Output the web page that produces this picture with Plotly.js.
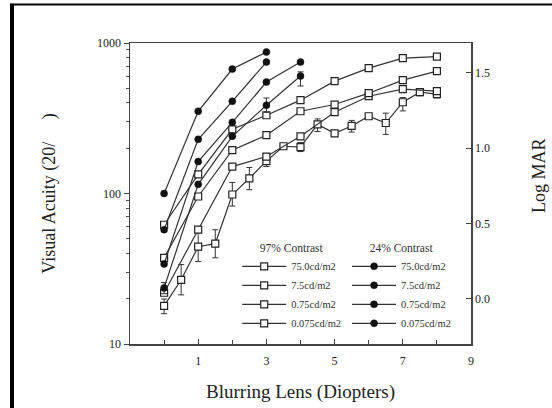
<!DOCTYPE html>
<html>
<head>
<meta charset="utf-8">
<script src="https://cdn.plot.ly/plotly-3.0.1.min.js"></script>
<style>html,body{margin:0;padding:0;background:#fff;}#chart{width:552px;height:408px;}</style>
</head>
<body>
<div id="chart"></div>
<script>
// ---- Data ----
const lensFull = [0, 1, 2, 3, 4, 5, 6, 7, 8];
const lensHalf = [0, 0.5, 1, 1.5, 2, 2.5, 3, 3.5, 4, 4.5, 5, 5.5, 6, 6.5, 7, 7.5, 8];
const lensLow3 = [0, 1, 2, 3];
const lensLow4 = [0, 1, 2, 3, 4];

// 97% contrast (open squares)
const hi75 = [17.9, 26.7, 44.3, 46.4, 98.5, 126, 164, 206, 203, 288, 251, 281, 326, 294, 404, 471, 457];
const hi75ErrUp = [2, 7, 11, 11, 20, 23, 15, 8, 15, 25, 0, 25, 0, 48, 30, 25, 25];
const hi75ErrDn = [2, 5.5, 9, 9, 16, 20, 13, 7, 13, 30, 0, 25, 0, 47, 50, 25, 25];
const hi7_5 = [21.9, 57.5, 151, 176, 240, 347, 443, 494, 479];
const hi0_75 = [37.4, 95.5, 194, 244, 352, 390, 464, 567, 650];
const hi0_075 = [62, 134, 267, 331, 417, 558, 681, 794, 812];

// 24% contrast (filled circles)
const lo75 = [23.6, 115, 240, 386, 603];
const lo75ErrUp = [2, 0, 0, 45, 40];
const lo75ErrDn = [2, 0, 0, 40, 85];
const lo7_5 = [34, 163, 297, 550, 747];
const lo0_75 = [57.5, 229, 410, 747];
const lo0_075 = [100, 352, 671, 871];

const seriesLabels = ['75.0cd/m2', '7.5cd/m2', '0.75cd/m2', '0.075cd/m2'];
const legendTitles = ['97% Contrast', '24% Contrast'];
const logmarTicks = [0, 0.5, 1.0, 1.5];
const logmarText = ['0.0', '0.5', '1.0', '1.5'];

// ---- Styling ----
const ink = '#222';
const lineStyle = {color: '#333', width: 1.2};
const sqMarker = {symbol: 'square', size: 7, color: '#fff', line: {color: ink, width: 1.2}};
const ciMarker = {symbol: 'circle', size: 7, color: '#111', line: {color: '#111', width: 0.5}};
function errBar(up, dn) {
  return {type: 'data', symmetric: false, array: up, arrayminus: dn, thickness: 1, width: 3, color: '#333'};
}

const traces = [
  {x: lensHalf, y: hi75, name: seriesLabels[0], legend: 'legend', legendgroup: 'h1', error_y: errBar(hi75ErrUp, hi75ErrDn)},
  {x: lensFull, y: hi7_5, name: seriesLabels[1], legend: 'legend', legendgroup: 'h2'},
  {x: lensFull, y: hi0_75, name: seriesLabels[2], legend: 'legend', legendgroup: 'h3'},
  {x: lensFull, y: hi0_075, name: seriesLabels[3], legend: 'legend', legendgroup: 'h4'}
].map(t => Object.assign({type: 'scatter', mode: 'lines+markers', line: lineStyle, marker: sqMarker}, t));

const traces2 = [
  {x: lensLow4, y: lo75, name: seriesLabels[0], legend: 'legend2', legendgroup: 'l1', error_y: errBar(lo75ErrUp, lo75ErrDn)},
  {x: lensLow4, y: lo7_5, name: seriesLabels[1], legend: 'legend2', legendgroup: 'l2'},
  {x: lensLow3, y: lo0_75, name: seriesLabels[2], legend: 'legend2', legendgroup: 'l3'},
  {x: lensLow3, y: lo0_075, name: seriesLabels[3], legend: 'legend2', legendgroup: 'l4'}
].map(t => Object.assign({type: 'scatter', mode: 'lines+markers', line: lineStyle, marker: ciMarker}, t));

// empty trace to activate the right-hand Log MAR axis
const axisHolder = {type: 'scatter', x: [], y: [], yaxis: 'y2', showlegend: false, hoverinfo: 'skip'};

const minorY = [20,30,40,50,60,70,80,90,200,300,400,500,600,700,800,900];
const serif = 'Liberation Serif, Times New Roman, serif';

const legendBase = {
  xref: 'paper', yref: 'paper', xanchor: 'left', yanchor: 'top',
  bgcolor: 'rgba(0,0,0,0)', borderwidth: 0,
  font: {family: serif, size: 10.5, color: '#333'},
  tracegroupgap: 0, itemwidth: 44
};

const layout = {
  width: 552, height: 408,
  margin: {l: 130, r: 81, t: 43, b: 64},
  paper_bgcolor: '#fff', plot_bgcolor: '#fff',
  font: {family: serif, color: '#333'},
  showlegend: true,
  xaxis: {
    range: [-1, 9], tickvals: [1, 3, 5, 7, 9], ticks: 'inside', ticklen: 5, tickcolor: '#444',
    minor: {tickvals: [0, 2, 4, 6, 8], ticks: 'inside', ticklen: 4, tickcolor: '#444'},
    showline: true, linecolor: '#444', linewidth: 1.5, mirror: true,
    showgrid: false, zeroline: false,
    tickfont: {family: serif, size: 12, color: '#222'},
    ticklabelstandoff: 5,
    title: {text: 'Blurring Lens (Diopters)', font: {family: serif, size: 19, color: '#222'}, standoff: 18}
  },
  yaxis: {
    type: 'log', range: [1, 3], tickvals: [10, 100, 1000], ticktext: ['10', '100', '1000'],
    ticks: 'outside', ticklen: 5, tickcolor: '#444',
    minor: {tickvals: minorY, ticks: 'outside', ticklen: 3, tickcolor: '#555'},
    showline: true, linecolor: '#444', linewidth: 1.5, mirror: false,
    showgrid: false, zeroline: false,
    tickfont: {family: serif, size: 12, color: '#222'},
    title: {text: 'Visual Acuity (20/\u00a0\u00a0\u00a0\u00a0\u00a0)', font: {family: serif, size: 18, color: '#222'}, standoff: 37}
  },
  yaxis2: {
    overlaying: 'y', side: 'right', range: [Math.log10(0.5), Math.log10(50)],
    tickvals: logmarTicks, ticktext: logmarText,
    ticks: 'inside', ticklen: 5, tickcolor: '#444',
    showline: true, linecolor: '#444', linewidth: 1.5,
    showgrid: false, zeroline: false,
    tickfont: {family: serif, size: 12, color: '#222'}
  },
  annotations: [
    {text: 'Log MAR', xref: 'paper', yref: 'paper', x: (539 - 130) / 341, y: (344 - 176) / 301,
     xanchor: 'center', yanchor: 'middle', textangle: -90, showarrow: false,
     font: {family: serif, size: 18, color: '#222'}}
  ],
  legend: Object.assign({}, legendBase, {
    x: 0.3144, y: 0.356,
    title: {text: legendTitles[0], side: 'top center', font: {family: serif, size: 11.5, color: '#333'}}
  }),
  legend2: Object.assign({}, legendBase, {
    x: 0.6365, y: 0.356,
    title: {text: legendTitles[1], side: 'top center', font: {family: serif, size: 11.5, color: '#333'}}
  }),
  shapes: [
    {type: 'line', xref: 'paper', yref: 'paper', x0: -0.346, x1: -0.346, y0: 1.13, y1: -0.3, line: {color: '#000', width: 4}},
    {type: 'line', xref: 'paper', yref: 'paper', x0: -0.352, x1: 1.3, y0: 1.128, y1: 1.128, line: {color: '#000', width: 2}}
  ]
};

Plotly.newPlot('chart', traces.concat(traces2, [axisHolder]), layout, {displayModeBar: false, staticPlot: true});
</script>
</body>
</html>
